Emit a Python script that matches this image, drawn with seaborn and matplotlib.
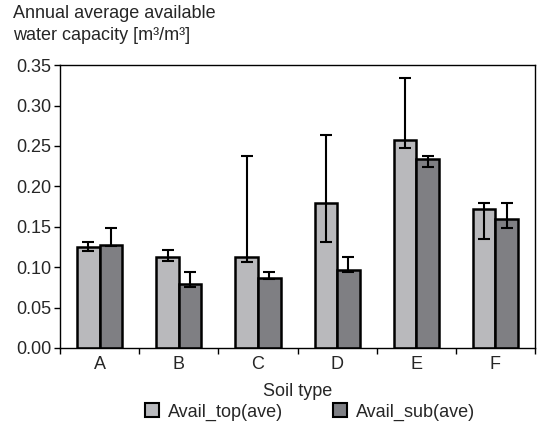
import seaborn as sns
import matplotlib.pyplot as plt
import pandas as pd
import numpy as np
from matplotlib.patches import Patch

soil_types = ['A', 'B', 'C', 'D', 'E', 'F']
series_names = ['Avail_top(ave)', 'Avail_sub(ave)']

# bar heights
avail_top = [0.125, 0.113, 0.113, 0.180, 0.258, 0.172]
avail_sub = [0.128, 0.079, 0.086, 0.096, 0.234, 0.160]

# error bar ends (low / high), not symmetric in the original
top_low = [0.120, 0.108, 0.106, 0.131, 0.248, 0.135]
top_high = [0.131, 0.121, 0.238, 0.263, 0.334, 0.180]
sub_low = [0.126, 0.076, 0.085, 0.094, 0.224, 0.148]
sub_high = [0.148, 0.094, 0.094, 0.113, 0.238, 0.180]

colors = ['#b8b9bd', '#7e7f84']

df = pd.DataFrame({
    'Soil type': soil_types * 2,
    'value': avail_top + avail_sub,
    'series': [series_names[0]] * 6 + [series_names[1]] * 6,
})

sns.set_style("ticks")
plt.rcParams['font.family'] = ['Liberation Sans', 'DejaVu Sans']

fig = plt.figure(figsize=(5.41, 4.29), dpi=100)
ax = fig.add_axes([0.111, 0.189, 0.878, 0.659])

sns.barplot(data=df, x='Soil type', y='value', hue='series', palette=colors,
            width=0.57, errorbar=None, edgecolor='black', linewidth=1.8,
            legend=False, ax=ax)

lows = [top_low, sub_low]
highs = [top_high, sub_high]
vals = [avail_top, avail_sub]
bar_conts = list(ax.containers)[:2]
for k, cont in enumerate(bar_conts):
    xs = [b.get_x() + b.get_width() / 2 for b in cont]
    v = np.array(vals[k])
    err = [v - np.array(lows[k]), np.array(highs[k]) - v]
    ax.errorbar(xs, v, yerr=err, fmt='none', ecolor='black', elinewidth=1.5,
                capsize=4, capthick=1.5, zorder=5)

ax.set_ylim(0, 0.35)
ax.set_yticks(np.arange(0, 0.351, 0.05))
ax.set_yticklabels([f'{t:.2f}' for t in np.arange(0, 0.351, 0.05)], fontsize=13)
ax.set_xlim(-0.5, 5.5)
ax.set_xticks(np.arange(-0.5, 5.6, 1.0))
ax.set_xticklabels([])
ax.set_xticks(range(6), minor=True)
ax.set_xticklabels(soil_types, minor=True, fontsize=13)
ax.tick_params(axis='x', which='minor', length=0, pad=6)
ax.tick_params(axis='both', which='major', length=4, width=1, color='black')
ax.tick_params(axis='y', pad=2)
ax.set_xlabel('Soil type', fontsize=13, labelpad=7)
ax.set_ylabel('')
for s in ax.spines.values():
    s.set_visible(True)
    s.set_linewidth(1.0)
    s.set_color('black')

fig.text(13 / 541, 1 - 5 / 429, 'Annual average available\nwater capacity [m³/m³]',
         fontsize=13, va='top', ha='left', linespacing=1.4)

handles = [Patch(facecolor=c, edgecolor='black', linewidth=1.5) for c in colors]
fig.legend(handles, series_names, loc='center', bbox_to_anchor=(310 / 541, 1 - 412 / 429),
           ncol=2, frameon=False, fontsize=13, handlelength=0.75, handleheight=0.75,
           handletextpad=0.5, columnspacing=2.8, borderpad=0)

fig.savefig('out.png', dpi=100)
